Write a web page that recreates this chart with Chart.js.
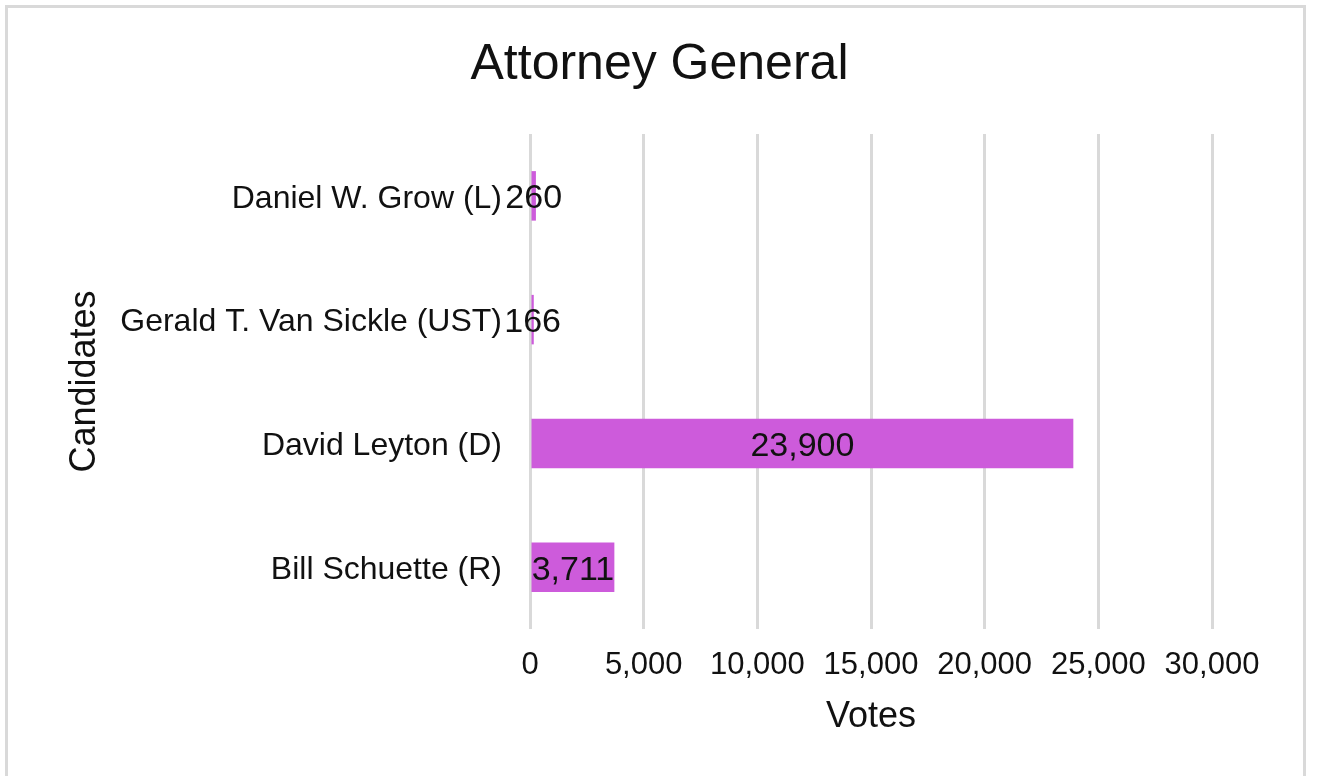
<!DOCTYPE html>
<html>
<head>
<meta charset="utf-8">
<script src="https://cdn.jsdelivr.net/npm/chart.js@4"></script>
<style>
  body { margin: 0; background: #fff; }
  #frame {
    position: absolute; left: 5px; top: 5px; width: 1301px; height: 800px;
    box-sizing: border-box; border: 3px solid #d9d9d9;
  }
  #wrap { position: absolute; left: 0; top: 0; width: 1319px; height: 776px; }
</style>
</head>
<body>
<div id="frame"></div>
<div id="wrap"><canvas id="myChart" width="1319" height="776"></canvas></div>
<script>
// chart data
const candidates = [
  "Daniel W. Grow (L)",
  "Gerald T. Van Sickle (UST)",
  "David Leyton (D)",
  "Bill Schuette (R)",
];
const votes = [260, 166, 23900, 3711];
const xTicks = [0, 5000, 10000, 15000, 20000, 25000, 30000];

const fontFamily = "'Liberation Sans', Arial, sans-serif";
const barColor = "#cd5bdb";

// draws the value in the middle of each bar (no datalabels plugin offline)
const barLabels = {
  id: "barLabels",
  afterDatasetsDraw(chart) {
    const ctx = chart.ctx;
    const meta = chart.getDatasetMeta(0);
    ctx.save();
    ctx.font = "34px " + fontFamily;
    ctx.fillStyle = "#111";
    ctx.textAlign = "center";
    ctx.textBaseline = "middle";
    meta.data.forEach((bar, i) => {
      const cx = (bar.x + bar.base) / 2;
      ctx.fillText(votes[i].toLocaleString("en-US"), cx, bar.y + 3);
    });
    ctx.restore();
  },
};

const ctx = document.getElementById("myChart").getContext("2d");
const myChart = new Chart(ctx, {
  type: "bar",
  data: {
    labels: candidates,
    datasets: [
      {
        label: "Votes",
        data: votes,
        backgroundColor: barColor,
        borderWidth: 0,
        barPercentage: 0.4,
        categoryPercentage: 1,
      },
    ],
  },
  options: {
    indexAxis: "y",
    responsive: false,
    animation: false,
    layout: { padding: { left: 0, right: 0, top: 33, bottom: 0 } },
    plugins: {
      legend: { display: false },
      tooltip: { enabled: false },
      title: {
        display: true,
        text: "Attorney General",
        color: "#111",
        font: { family: fontFamily, size: 50, weight: "normal" },
        padding: { top: 2, bottom: 39 },
      },
    },
    scales: {
      x: {
        min: 0,
        max: 30000,
        afterBuildTicks: (scale) => {
          scale.ticks = xTicks.map((v) => ({ value: v }));
        },
        afterFit: (scale) => {
          scale.height = 147;
        },
        grid: { color: "#d9d9d9", lineWidth: 3, drawTicks: false },
        border: { display: false },
        ticks: {
          color: "#111",
          padding: 18,
          font: { family: fontFamily, size: 31 },
          callback: (v) => Number(v).toLocaleString("en-US"),
        },
        title: {
          display: true,
          text: "Votes",
          color: "#111",
          font: { family: fontFamily, size: 36 },
          padding: { top: 0, bottom: 37 },
        },
      },
      y: {
        afterFit: (scale) => {
          scale.width = 530;
        },
        grid: { display: false, drawTicks: false },
        border: { display: false },
        ticks: {
          color: "#111",
          padding: 28,
          labelOffset: 3,
          font: { family: fontFamily, size: 32 },
        },
        title: {
          display: true,
          text: "Candidates",
          color: "#111",
          font: { family: fontFamily, size: 36 },
          padding: { top: 63, bottom: 0 },
        },
      },
      // empty right-hand axis keeps the plot off the right edge
      yRight: {
        position: "right",
        afterFit: (scale) => {
          scale.width = 107;
        },
        grid: { display: false, drawTicks: false },
        border: { display: false },
        ticks: { display: false },
      },
    },
  },
  plugins: [barLabels],
});
</script>
</body>
</html>
